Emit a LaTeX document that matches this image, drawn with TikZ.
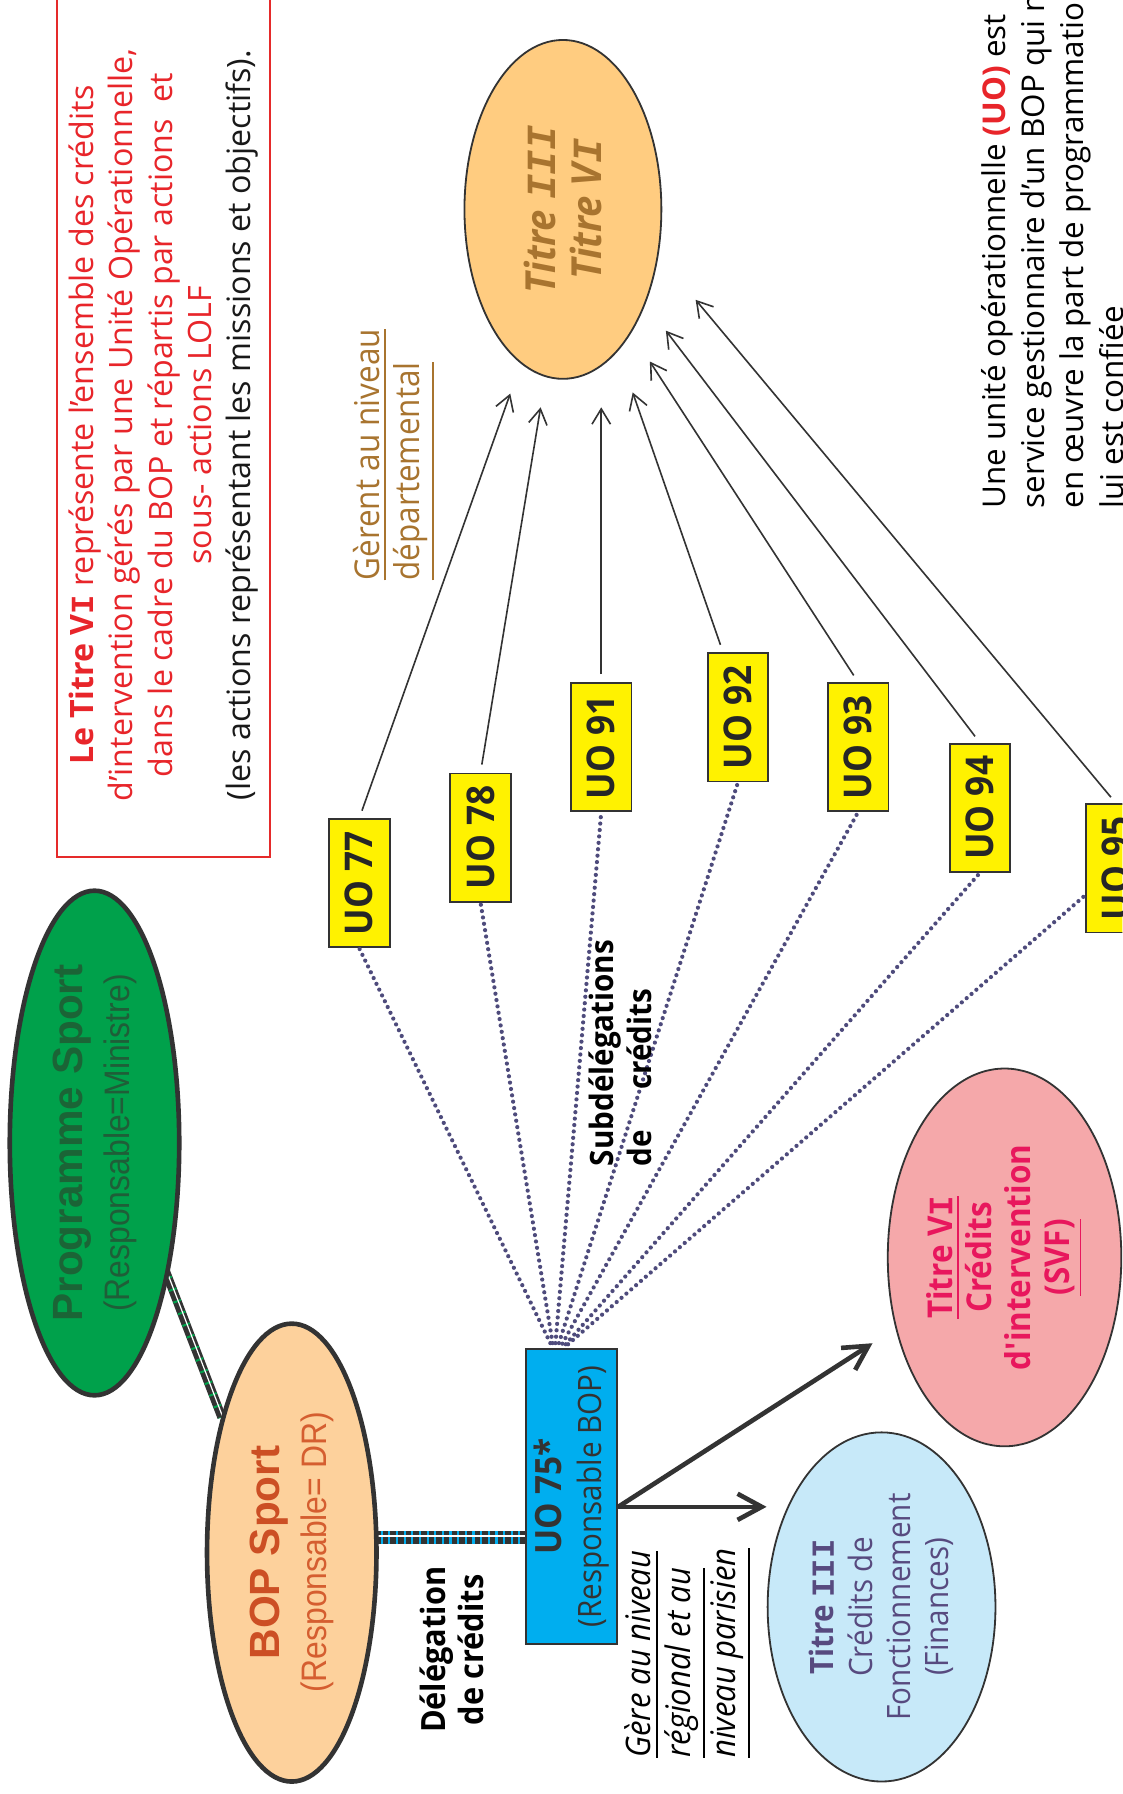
\documentclass[tikz,border=0pt]{standalone}
\usepackage{fontspec}
\setmainfont{Open Sans}
\newfontfamily\comic{Open Sans}[FakeStretch=0.92]
\newfontfamily\serI{Liberation Mono}
\newfontfamily\arialB{Liberation Sans}
\newfontfamily\arialN{Liberation Sans}[FakeStretch=0.9]
\usetikzlibrary{shapes.geometric,arrows.meta,calc}
\newcommand\Ig{{\serI I}}
\definecolor{redbox}{HTML}{E52A2A}
\definecolor{redt}{HTML}{E8252A}
\definecolor{brownt}{HTML}{A8742F}
\definecolor{orangeell}{HTML}{FFCC80}
\definecolor{yel}{HTML}{FFF200}
\definecolor{cyanbox}{HTML}{00AEEF}
\definecolor{greenell}{HTML}{00A14B}
\definecolor{greentxt}{HTML}{1B6436}
\definecolor{greensub}{HTML}{1F5E38}
\definecolor{peach}{HTML}{FDD19C}
\definecolor{boptxt}{HTML}{CC4F24}
\definecolor{bopsub}{HTML}{D55E30}
\definecolor{lblue}{HTML}{C7E9F9}
\definecolor{purp}{HTML}{574A7F}
\definecolor{pinkf}{HTML}{F5A8AA}
\definecolor{crim}{HTML}{E8175D}
\definecolor{dotc}{HTML}{4E4B7C}
\definecolor{edge}{HTML}{333333}
\begin{document}
\begin{tikzpicture}[x=0.01cm,y=-0.01cm,
  rot/.style={rotate=90, inner sep=0pt, align=center},
  uobox/.style={rotate=90, draw=edge, line width=0.45pt, fill=yel, minimum width=1.12cm, minimum height=0.53cm, inner sep=0pt, text=black!85, font=\comic\bfseries\fontsize{9.5}{11}\selectfont},
  thinarrow/.style={draw=edge, line width=0.4pt, -{Straight Barb[length=3.8pt,width=4.6pt]}, shorten <=2pt},
  dotline/.style={draw=dotc, line width=1.05pt, line cap=round, dash pattern=on 0pt off 1.6pt},
  bigarrow/.style={draw=edge, line width=1.15pt, -{Straight Barb[length=6pt,width=6.5pt]}},
  bigell/.style={ellipse, rotate=90, draw=edge, line width=1.15pt, minimum width=4cm, minimum height=1.48cm, inner sep=0pt, align=center},
  thinell/.style={ellipse, rotate=90, draw=edge, line width=0.45pt, inner sep=0pt, align=center}
]
\fill[white] (0,0) rectangle (981,1568);
\useasboundingbox (0,0) rectangle (981,1568);
\clip (0,0) rectangle (981,1568);

% links between Programme / BOP / UO75
\coordinate (l1) at (142.8,1106);
\coordinate (l2) at (193.8,1238.7);
\draw[line width=2.2pt, draw=edge] (l1) -- (l2);
\draw[line width=2.0pt, draw=greenell, dash pattern=on 0.5pt off 2.6pt] (l1) -- (l2);
\draw[line width=0.3pt, white] ($(l1)+(1,0)$) -- ($(l2)+(1,0)$);
\coordinate (b1) at (326,1344);
\coordinate (b2) at (460,1344);
\draw[line width=3.3pt, draw=edge] (b1) -- (b2);
\draw[line width=3.3pt, draw=cyanbox, dash pattern=on 0.55pt off 1.35pt] (b1) -- (b2);
\draw[line width=0.35pt, white] ($(b1)+(0,-1.5)$) -- ($(b2)+(0,-1.5)$);

% red note
\node[rotate=90, draw=redbox, line width=0.6pt, minimum width=7.55cm, minimum height=1.86cm, inner sep=0pt, align=center, text=redt, font=\rmfamily\fontsize{8}{9.8}\selectfont] (note) at (143,371.5)
 {{\bfseries Le Titre V\Ig} représente l'ensemble des crédits\\
  d'intervention gérés par une Unité Opérationnelle,\\
  dans le cadre du BOP et répartis par actions\ \ et\\
  sous- actions LOLF\\
  \textcolor{black!90}{(les actions représentant les missions et objectifs).}};

% Titre III / VI ellipse
\node[thinell, fill=orangeell, minimum width=2.96cm, minimum height=1.72cm, text=brownt, font=\comic\bfseries\itshape\fontsize{10.3}{11.4}\selectfont] (titre) at (492,183) {Titre \Ig\Ig\Ig\\Titre V\Ig};

\node[rot, anchor=west, align=left, text=brownt, font=\comic\fontsize{8.5}{10}\selectfont] (gerent) at (344.5,508) {\underline{Gèrent au niveau}\\\underline{départemental}};

\node[rot, anchor=west, align=left, font=\rmfamily\fontsize{7.8}{9.7}\selectfont] (uodef) at (920,445)
 {Une unité opérationnelle {\color{redt}\bfseries(UO)} est\\service gestionnaire d'un BOP qui met\\en œuvre la part de programmation qui\\lui est confiée};

% UO boxes
\node[uobox] (uo77) at (314,772) {UO 77};
\node[uobox] (uo78) at (420,732) {UO 78};
\node[uobox] (uo91) at (525.5,653) {UO 91};
\node[uobox] (uo92) at (645,627) {UO 92};
\node[uobox] (uo93) at (750,653) {UO 93};
\node[uobox] (uo94) at (856.5,706) {UO 94};
\node[uobox] (uo95) at (975.5,759) {UO 95};

\coordinate (t77) at (446,344);
\coordinate (t78) at (472.5,356);
\coordinate (t91) at (525.5,356);
\coordinate (t92) at (553,343);
\coordinate (t93) at (568,316);
\coordinate (t94) at (582,289);
\coordinate (t95) at (608,262);
\draw[thinarrow] (uo77.east) -- (t77);
\draw[thinarrow] (uo78.east) -- (t78);
\draw[thinarrow] (uo91.east) -- (t91);
\draw[thinarrow] ([xshift=-0.13cm]uo92.east) -- (t92);
\draw[thinarrow] (uo93.east) -- (t93);
\draw[thinarrow] (uo94.east) -- (t94);
\draw[thinarrow] (uo95.east) -- (t95);

% Programme & BOP
\node[bigell, fill=greenell, font=\fontsize{10.5}{11.7}\selectfont] (prog) at (82.6,999)
 {{\arialB\bfseries\color{greentxt}Programme Sport}\\{\arialN\fontsize{8.8}{11.7}\selectfont\color{greensub}(Responsable=Ministre)}};
\node[bigell, fill=peach, font=\fontsize{10.5}{11.7}\selectfont] (bop) at (255,1357)
 {{\arialB\bfseries\color{boptxt}BOP Sport}\\{\arialN\fontsize{8.8}{11.7}\selectfont\color{bopsub}(Responsable= DR)}};

% UO 75
\node[rotate=90, draw=edge, line width=0.45pt, fill=cyanbox, minimum width=2.575cm, minimum height=0.80cm, inner sep=0pt, align=center, text=edge, font=\comic\fontsize{8}{10}\selectfont] (uo75) at (499.5,1308)
 {{\bfseries\fontsize{9}{10}\selectfont UO 75*}\\(Responsable BOP)};

\draw[dotline] ($(uo75.east)+(-18.5,-4.5)$) -- (uo77.west);
\draw[dotline] ($(uo75.east)+(-16.5,-4.5)$) -- (uo78.west);
\draw[dotline] ($(uo75.east)+(-14,-4.5)$) -- (uo91.west);
\draw[dotline] ($(uo75.east)+(-11,-4.5)$) -- (uo92.west);
\draw[dotline] ($(uo75.east)+(-8,-4)$) -- (uo93.west);
\draw[dotline] ($(uo75.east)+(-5,-3.5)$) -- (uo94.west);
\draw[dotline] ($(uo75.east)+(-3,-3.5)$) -- (uo95);

\node[rot, font=\comic\bfseries\fontsize{8.3}{9.5}\selectfont] (deleg) at (395,1442) {Délégation\\de crédits};
\node[rot, anchor=west, align=left, font=\comic\bfseries\fontsize{8}{9.5}\selectfont] (subdeleg) at (542,1020) {Subdélégations\\de\hspace{10pt}crédits};
\node[rot, anchor=west, align=left, font=\comic\itshape\fontsize{8.4}{9.8}\selectfont] (gere) at (601.5,1537) {\underline{Gère au niveau}\\\underline{régional et au}\\\underline{niveau parisien}};

% Titre III / Titre VI targets
\node[thinell, fill=lblue, minimum width=3.05cm, minimum height=1.99cm, text=purp, font=\comic\fontsize{8}{9.5}\selectfont] (t3) at (770.5,1404.5)
 {{\bfseries Titre \Ig\Ig\Ig}\\Crédits de\\Fonctionnement\\(Finances)};
\node[thinell, fill=pinkf, minimum width=3.3cm, minimum height=2.04cm, text=crim, font=\comic\bfseries\fontsize{8.5}{9.7}\selectfont] (t6) at (878,1099)
 {\underline{Titre V\Ig}\\Crédits\\d'intervention\\\underline{(SVF)}};

\coordinate (a1) at (670,1317);
\coordinate (a2) at (762.6,1174);
\draw[bigarrow] ($(uo75.south)+(0,9)$) -- (a1);
\draw[bigarrow] ($(uo75.south)+(0,9)$) -- (a2);
\end{tikzpicture}
\end{document}
